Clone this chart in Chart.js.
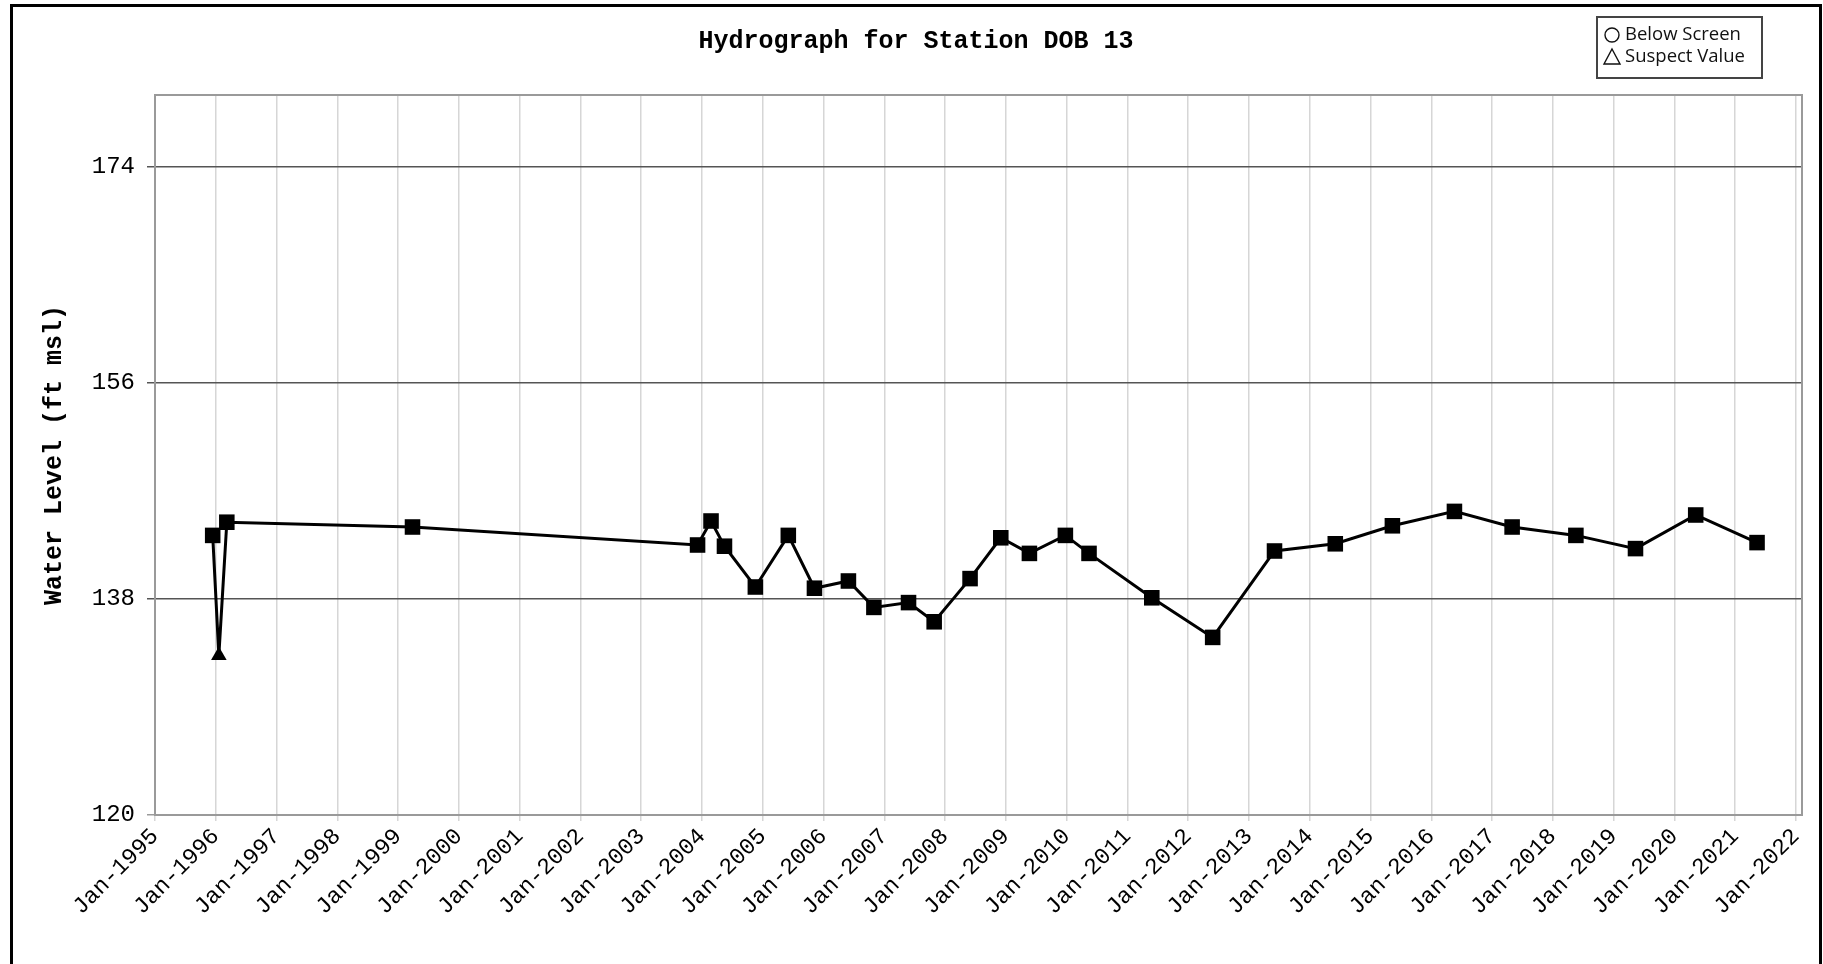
<!DOCTYPE html>
<html>
<head>
<meta charset="utf-8">
<script src="https://cdn.jsdelivr.net/npm/chart.js@4/dist/chart.umd.min.js"></script>
<style>
  html, body { margin: 0; padding: 0; background: #fff; overflow: hidden; }
  #wrap { position: relative; width: 1823px; height: 964px; }
  #frame {
    position: absolute; left: 10px; top: 4px; width: 1812px; height: 1000px;
    border: 3px solid #000; box-sizing: border-box; pointer-events: none;
  }
</style>
</head>
<body>
<div id="wrap">
  <canvas id="hydroChart"></canvas>
  <div id="frame"></div>
</div>
<script>
const chartTitle = 'Hydrograph for Station DOB 13';
const yAxisTitle = 'Water Level (ft msl)';

// sample dates and measured levels (ft msl)
const sampleDates = [
    '1995-12-13', '1996-01-19', '1996-03-07', '1999-03-28', '2003-12-05',
    '2004-02-24', '2004-05-15', '2004-11-17', '2005-06-03', '2005-11-07',
    '2006-05-30', '2006-10-30', '2007-05-26', '2007-10-27', '2008-05-30',
    '2008-12-01', '2009-05-22', '2009-12-24', '2010-05-15', '2011-05-27',
    '2012-05-27', '2013-06-03', '2014-06-03', '2015-05-12', '2016-05-19',
    '2017-05-01', '2018-05-19', '2019-05-12', '2020-05-08', '2021-05-12'
];
const waterLevels = [
    143.3, 133.3, 144.4, 144.0, 142.5,
    144.5, 142.4, 139.0, 143.3, 138.9,
    139.5, 137.3, 137.7, 136.1, 139.7,
    143.1, 141.8, 143.3, 141.8, 138.1,
    134.8, 142.0, 142.6, 144.1, 145.3,
    144.0, 143.3, 142.2, 145.0, 142.7
];
// index of readings flagged as suspect (triangle marker)
const suspectIdx = [1];

const yTicks = [120, 138, 156, 174];
const xTickYears = [1995, 1996, 1997, 1998, 1999, 2000, 2001, 2002, 2003, 2004,
    2005, 2006, 2007, 2008, 2009, 2010, 2011, 2012, 2013, 2014,
    2015, 2016, 2017, 2018, 2019, 2020, 2021, 2022];
const legendItems = [
    { label: 'Below Screen', shape: 'circle' },
    { label: 'Suspect Value', shape: 'triangle' }
];

// "YYYY-MM-DD" -> decimal year
function toYear(s) {
    const d = new Date(s + 'T12:00:00Z');
    const y = d.getUTCFullYear();
    const start = Date.UTC(y, 0, 1);
    const end = Date.UTC(y + 1, 0, 1);
    return y + (d.getTime() - start) / (end - start);
}

const points = sampleDates.map((d, i) => ({ x: toYear(d), y: waterLevels[i] }));
const styles = points.map((p, i) => suspectIdx.includes(i) ? 'triangle' : 'rect');
const radii = points.map((p, i) => suspectIdx.includes(i) ? 9 : 11);

const mono = '"Liberation Mono", "DejaVu Sans Mono", monospace';

// gray frame round the plot area
const plotFrame = {
    id: 'plotFrame',
    beforeDatasetsDraw(chart) {
        const { ctx, chartArea: a } = chart;
        ctx.save();
        ctx.strokeStyle = '#9a9a9a';
        ctx.lineWidth = 2;
        ctx.strokeRect(a.left, a.top, a.right - a.left, a.bottom - a.top);
        ctx.restore();
    }
};

// marker legend box, top right
const markerLegend = {
    id: 'markerLegend',
    afterDraw(chart) {
        const ctx = chart.ctx;
        ctx.save();
        ctx.strokeStyle = '#444';
        ctx.lineWidth = 2;
        ctx.strokeRect(1597, 17, 165, 61);
        ctx.font = '18.5px "Open Sans", "Noto Sans", sans-serif';
        ctx.fillStyle = '#111';
        ctx.textBaseline = 'middle';
        legendItems.forEach((item, i) => {
            const cy = 35 + i * 22;
            ctx.lineWidth = 1.4;
            ctx.strokeStyle = '#111';
            ctx.beginPath();
            if (item.shape === 'circle') {
                ctx.arc(1612, cy, 7, 0, Math.PI * 2);
            } else {
                ctx.moveTo(1612, cy - 8);
                ctx.lineTo(1620, cy + 7);
                ctx.lineTo(1604, cy + 7);
                ctx.closePath();
            }
            ctx.stroke();
            ctx.fillText(item.label, 1625, cy);
        });
        ctx.restore();
    }
};

new Chart(document.getElementById('hydroChart'), {
    type: 'line',
    data: {
        datasets: [{
            data: points,
            borderColor: '#000',
            backgroundColor: '#000',
            borderWidth: 3,
            tension: 0,
            pointStyle: styles,
            pointRadius: radii,
            pointBorderWidth: 0
        }]
    },
    options: {
        responsive: true,
        maintainAspectRatio: false,
        animation: false,
        layout: { padding: { left: 30, right: 21, top: 0, bottom: 0 } },
        plugins: {
            legend: { display: false },
            tooltip: { enabled: false },
            title: {
                display: true,
                text: chartTitle,
                color: '#000',
                font: { family: mono, size: 25, weight: 'bold' },
                padding: { top: 27, bottom: 38 }
            }
        },
        scales: {
            x: {
                type: 'linear',
                min: 1995,
                max: 2022.1,
                afterBuildTicks: s => { s.ticks = xTickYears.map(v => ({ value: v })); },
                afterFit: s => { s.height = 149; },
                border: { display: false },
                grid: { color: '#d6d6d6', lineWidth: 1.5, tickLength: 6 },
                ticks: {
                    autoSkip: false,
                    minRotation: 45,
                    maxRotation: 45,
                    padding: 2,
                    color: '#000',
                    font: { family: mono, size: 23 },
                    callback: v => 'Jan-' + v
                }
            },
            y: {
                min: 120,
                max: 180,
                afterBuildTicks: s => { s.ticks = yTicks.map(v => ({ value: v })); },
                afterFit: s => { s.width = 125; },
                border: { display: false },
                grid: {
                    color: c => c.tick && c.tick.value === 120 ? '#9a9a9a' : '#555',
                    lineWidth: 1.5,
                    tickLength: 8
                },
                ticks: {
                    padding: 12,
                    color: '#000',
                    font: { family: mono, size: 24 }
                },
                title: {
                    display: true,
                    text: yAxisTitle,
                    color: '#000',
                    font: { family: mono, size: 25, weight: 'bold' },
                    padding: { top: 10, bottom: 0 }
                }
            }
        }
    },
    plugins: [plotFrame, markerLegend]
});
</script>
</body>
</html>
